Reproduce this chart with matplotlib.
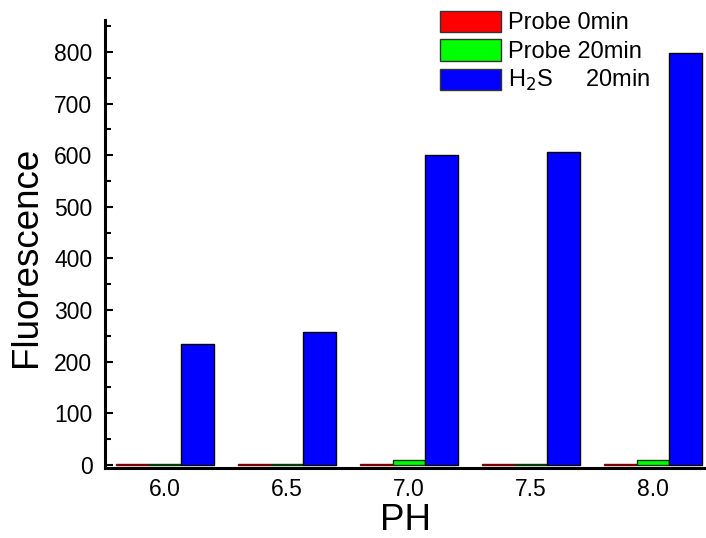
import matplotlib
matplotlib.use("Agg")
import matplotlib.pyplot as plt
from matplotlib.ticker import MultipleLocator
import numpy as np

plt.rcParams['font.family'] = ['Liberation Sans', 'DejaVu Sans']

ph = [6.0, 6.5, 7.0, 7.5, 8.0]
ph_labels = ['6.0', '6.5', '7.0', '7.5', '8.0']
probe0 = [2, 2, 2, 2, 2]
probe20 = [2, 2, 9, 2, 9]
h2s20 = [235, 258, 600, 607, 798]
series_names = ['Probe 0min', 'Probe 20min', 'H$_2$S     20min']
colors = ['#ff0000', '#00ff00', '#0000ff']
edges = ['#7a0000', '#003a00', '#000000']

fig = plt.figure(figsize=(7.06, 5.38), dpi=100)
ax = fig.add_axes([105/706, 70/538, 601/706, 448/538])

x = np.array(ph)
w = 0.133
for i, (vals, name, c, ec) in enumerate(zip([probe0, probe20, h2s20], series_names, colors, edges)):
    ax.bar(x + (i - 1) * w, vals, width=w, color=c, edgecolor=ec, linewidth=1, label=name)

ax.set_xlim(5.754, 8.217)
ax.set_ylim(-6, 862)
ax.set_xticks(ph)
ax.set_xticklabels(ph_labels)
ax.yaxis.set_major_locator(MultipleLocator(100))
ax.yaxis.set_minor_locator(MultipleLocator(50))
ax.set_yticks(np.arange(0, 801, 100))

for s in ['top', 'right']:
    ax.spines[s].set_visible(False)
for s in ['left', 'bottom']:
    ax.spines[s].set_linewidth(2.2)

ax.tick_params(axis='y', which='major', direction='in', length=6, width=1.5, labelsize=16.5, pad=9)
ax.tick_params(axis='y', which='minor', direction='in', length=4, width=1.5)
ax.tick_params(axis='x', which='both', length=0, labelsize=16.5, pad=7)

ax.set_xlabel('PH', fontsize=26.5, labelpad=1.5)
ax.set_ylabel('Fluorescence', fontsize=26.5)
ax.yaxis.set_label_coords(-0.1015, 0.471)

handles, labels = ax.get_legend_handles_labels()
leg = ax.legend(handles, labels, loc='upper left', bbox_to_anchor=(0.557, 1.021), frameon=False, fontsize=17,
                handlelength=2.58, handleheight=1.0, handletextpad=0.3, labelspacing=0.22,
                borderaxespad=0, borderpad=0)
for p in leg.get_patches():
    p.set_edgecolor('#333333')

fig.savefig('out.png', dpi=100)
